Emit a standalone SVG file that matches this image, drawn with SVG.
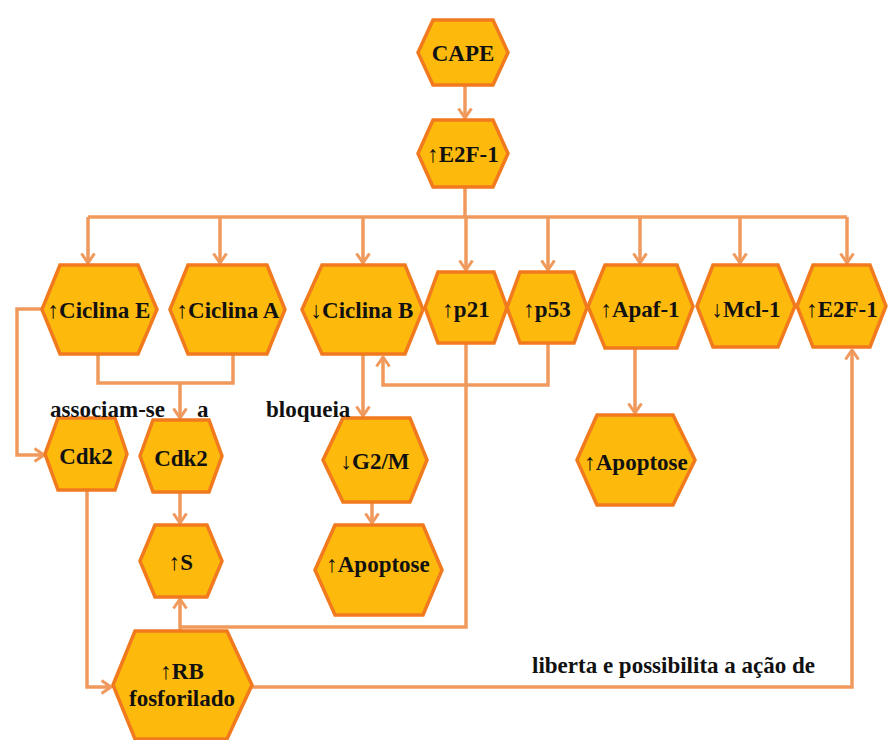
<svg xmlns="http://www.w3.org/2000/svg" width="888" height="740" viewBox="0 0 888 740">
<defs>
<style>
.hex{fill:#FDBA0C;stroke:#F27A1E;stroke-width:3.5;stroke-linejoin:miter}
.lbl{font-weight:bold;font-size:23px;fill:#111;text-anchor:middle;dominant-baseline:central}
.txt{font-weight:bold;font-size:23px;fill:#111}
.c{fill:none;stroke:#EF9A5C;stroke-width:3.5}
.a{marker-end:url(#arr)}
</style>
<marker id="arr" viewBox="0 0 12 16" refX="10.5" refY="8" markerWidth="12" markerHeight="16" orient="auto" markerUnits="userSpaceOnUse">
<path d="M1,1.5 L10.5,8 L1,14.5" fill="none" stroke="#EF9A5C" stroke-width="3"/>
</marker>
</defs>
<rect width="888" height="740" fill="#fff"/>
<g id="connectors">
<path class="c a" d="M465,85 V118"/>
<path class="c" d="M465,187 V217 M88,217 H847"/>
<path class="c a" d="M88,217 V263"/>
<path class="c a" d="M220,217 V263"/>
<path class="c a" d="M363,217 V263"/>
<path class="c a" d="M466,217 V270"/>
<path class="c a" d="M548,217 V270"/>
<path class="c a" d="M640,217 V263"/>
<path class="c a" d="M740,217 V263"/>
<path class="c a" d="M847,217 V263"/>
<path class="c" d="M98,354 V383 H233 V354"/>
<path class="c a" d="M180,383 V418"/>
<path class="c a" d="M42,309 H17 V455 H44"/>
<path class="c a" d="M180,492 V523"/>
<path class="c a" d="M363,354 V416"/>
<path class="c a" d="M372,502 V523"/>
<path class="c a" d="M548,343 V385 H383 V357"/>
<path class="c a" d="M635,348 V413"/>
<path class="c" d="M466,343 V627 H180"/>
<path class="c a" d="M180,630 V599"/>
<path class="c a" d="M87,490 V687 H111"/>
<path class="c a" d="M252,687 H852 V350"/>
</g>
<g font-family="Liberation Serif, Times New Roman, serif">
<g id="cape"><polygon class="hex" points="418,52.5 433,20 493,20 508,52.5 493,85 433,85"/><text class="lbl" x="463" y="53">CAPE</text></g>
<g id="e2f1-top"><polygon class="hex" points="418,153.5 433,120 493,120 508,153.5 493,187 433,187"/><text class="lbl" x="463" y="154">↑E2F-1</text></g>
<g id="ciclina-e"><polygon class="hex" points="42,309.5 60,265 138,265 157,309.5 138,354 60,354"/><text class="lbl" x="99" y="310">↑Ciclina E</text></g>
<g id="ciclina-a"><polygon class="hex" points="170,309.5 188,265 267,265 285,309.5 267,354 188,354"/><text class="lbl" x="228" y="310">↑Ciclina A</text></g>
<g id="ciclina-b"><polygon class="hex" points="302,309.5 322,265 405,265 423,309.5 405,354 322,354"/><text class="lbl" x="362" y="310">↓Ciclina B</text></g>
<g id="p21"><polygon class="hex" points="425,307.5 438,272 494,272 507,307.5 494,343 438,343"/><text class="lbl" x="466" y="309">↑p21</text></g>
<g id="p53"><polygon class="hex" points="507,307.5 520,272 574,272 587,307.5 574,343 520,343"/><text class="lbl" x="547" y="309">↑p53</text></g>
<g id="apaf1"><polygon class="hex" points="588,306.5 605,265 677,265 693,306.5 677,348 605,348"/><text class="lbl" x="640" y="309">↑Apaf-1</text></g>
<g id="mcl1"><polygon class="hex" points="697,306 713,265 778,265 795,306 778,347 713,347"/><text class="lbl" x="746" y="309">↓Mcl-1</text></g>
<g id="e2f1-right"><polygon class="hex" points="797,306 813,265 870,265 886,306 870,347 813,347"/><text class="lbl" x="842" y="309">↑E2F-1</text></g>
<g id="cdk2-left"><polygon class="hex" points="45,454 58,418 115,418 127,454 115,490 58,490"/><text class="lbl" x="86" y="456">Cdk2</text></g>
<g id="cdk2-right"><polygon class="hex" points="140,456 153,420 209,420 222,456 209,492 153,492"/><text class="lbl" x="181" y="458">Cdk2</text></g>
<g id="g2m"><polygon class="hex" points="323,460 343,418 410,418 427,460 410,502 343,502"/><text class="lbl" x="375" y="461">↓G2/M</text></g>
<g id="apoptose-left"><polygon class="hex" points="315,570 335,525 423,525 442,570 423,615 335,615"/><text class="lbl" x="378" y="564">↑Apoptose</text></g>
<g id="s-phase"><polygon class="hex" points="140,561 155,525 207,525 222,561 207,597 155,597"/><text class="lbl" x="181" y="562">↑S</text></g>
<g id="apoptose-right"><polygon class="hex" points="577,460 597,415 673,415 695,460 673,505 597,505"/><text class="lbl" x="636" y="462">↑Apoptose</text></g>
<g id="rb"><polygon class="hex" points="113,685 135,631 227,631 252,685 227,739 135,739"/><text class="lbl" x="182" y="671">↑RB</text><text class="lbl" x="182" y="698">fosforilado</text></g>
<g id="labels">
<text class="txt" x="50" y="417">associam-se</text>
<text class="txt" x="197" y="417">a</text>
<text class="txt" x="266" y="417">bloqueia</text>
<text class="txt" x="532" y="673">liberta e possibilita a ação de</text>
</g>
</g>
</svg>
